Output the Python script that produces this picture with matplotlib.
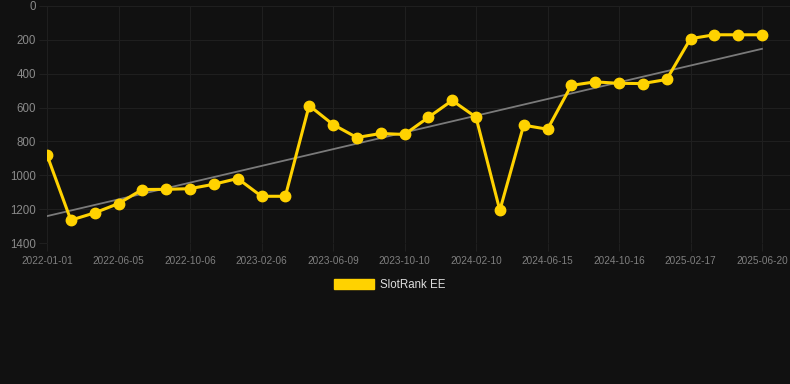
import numpy as np
import matplotlib.pyplot as plt
from matplotlib.patches import Patch

# rank values, one point per snapshot
ranks = [880, 1265, 1222, 1167, 1084, 1083, 1079, 1053, 1019, 1124,
         1124, 588, 700, 777, 753, 759, 658, 558, 657, 1207,
         704, 728, 469, 448, 457, 458, 434, 193, 170, 170, 170]
tick_labels = ['2022-01-01', '2022-06-05', '2022-10-06', '2023-02-06',
               '2023-06-09', '2023-10-10', '2024-02-10', '2024-06-15',
               '2024-10-16', '2025-02-17', '2025-06-20']
series_name = 'SlotRank EE'

bg = '#111111'
gold = '#FFD200'
grid = '#1f1f1f'

x = np.arange(len(ranks))
y = np.array(ranks)

# linear trend
k, b = np.polyfit(x, y, 1)
trend = k * x + b

fig = plt.figure(figsize=(7.9, 3.84), dpi=100, facecolor=bg)
ax = fig.add_axes([47 / 790, 1 - 243 / 384, 1 - 47 / 790, 237 / 384])
ax.set_facecolor(bg)

ax.plot(x, trend, color='#7a7a7a', lw=1.3, zorder=2)
ax.plot(x, y, color=gold, lw=2.2, marker='o', ms=7.5, zorder=3)

ax.set_ylim(1400, 0)
ax.set_yticks(range(0, 1401, 200))
ax.set_xlim(0, (790 - 47) / (715 / 30))
ax.set_xticks(x[::3])
ax.set_xticklabels(tick_labels)

for s in ax.spines.values():
    s.set_visible(False)
ax.grid(True, color=grid, lw=0.8)
ax.tick_params(axis='y', colors=grid, labelcolor='#8a8a8a', labelsize=8.3,
               length=6, pad=2)
ax.tick_params(axis='x', colors=grid, labelcolor='#7f7f7f', labelsize=7.2,
               length=6, pad=3)
for t in ax.get_xticklabels() + ax.get_yticklabels():
    t.set_fontfamily('Liberation Sans')

leg = fig.legend(handles=[Patch(color=gold, label=series_name)],
                 loc='center', bbox_to_anchor=(390 / 790, 1 - 285 / 384),
                 frameon=False, handlelength=3.45, handleheight=1.0,
                 handletextpad=0.5, prop={'family': 'Liberation Sans', 'size': 8.3})
for t in leg.get_texts():
    t.set_color('#dddddd')

fig.savefig('out.png', dpi=100, facecolor=bg)
